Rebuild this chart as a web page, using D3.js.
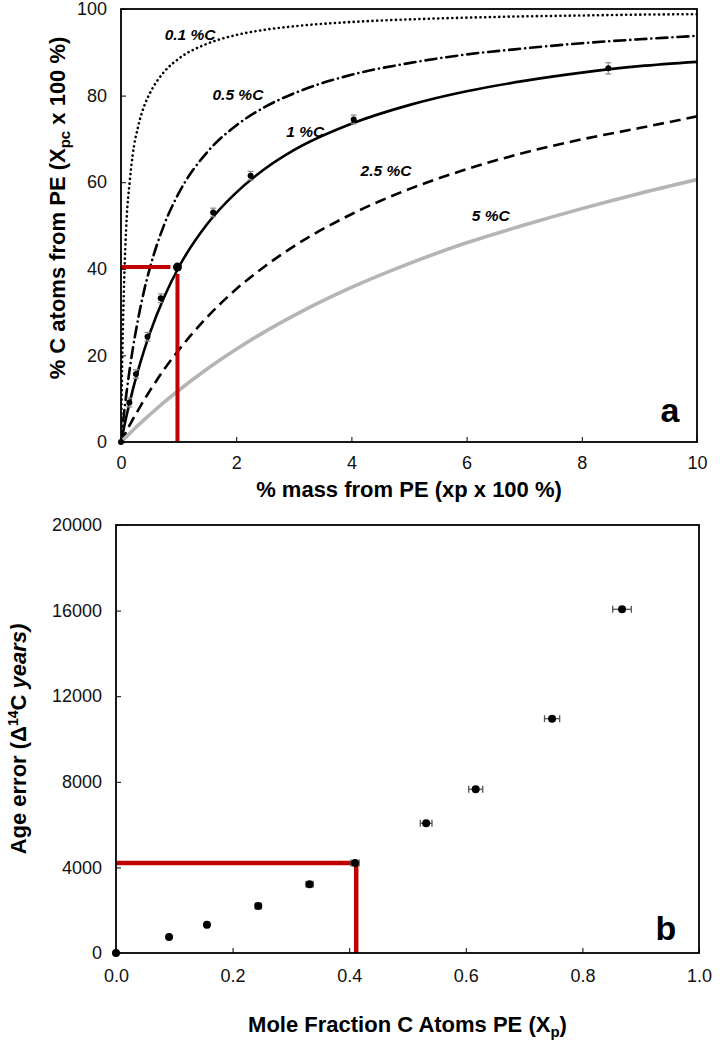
<!DOCTYPE html>
<html>
<head>
<meta charset="utf-8">
<script src="https://cdn.jsdelivr.net/npm/d3@7"></script>
<style>
  body { margin: 0; background: #fff; }
  svg { display: block; font-family: "Liberation Sans", Arial, sans-serif; }
  .tick text { font-size: 18px; fill: #111; }
</style>
</head>
<body>
<svg id="chart" width="722" height="1044"></svg>
<script>
// panel a: % C atoms from PE vs % mass from PE, one curve per sample %C
const massGrid = [0, 0.02, 0.05, 0.1, 0.15, 0.2, 0.3, 0.4, 0.5, 0.75, 1, 1.5, 2, 2.5, 3, 4, 5, 6, 7, 8, 9, 10]
const curve01 = [0, 18, 35, 52, 60, 66, 73, 77.5, 80.5, 85.5, 88.5, 92, 94, 95.2, 96, 97, 97.6, 98, 98.3, 98.5, 98.7, 98.8]
const curve05 = [0, 2.6, 6.3, 11.8, 16.7, 21.1, 28.6, 34.9, 40.1, 50.2, 57.4, 67.0, 73.1, 77.4, 80.5, 84.8, 87.5, 89.5, 90.9, 92.1, 93.0, 93.8]
const curve1 = [0, 1.3, 3.2, 6.3, 9.1, 11.8, 16.7, 21.1, 25.1, 33.5, 40.3, 50.4, 57.6, 63.1, 67.4, 73.5, 77.8, 81.0, 83.4, 85.3, 86.8, 87.8]
const curve25 = [0, 0.5, 1.3, 2.6, 3.9, 5.1, 7.4, 9.7, 11.8, 16.8, 21.2, 28.9, 35.3, 40.6, 45.2, 52.6, 58.4, 63.0, 66.8, 69.9, 72.5, 75.2]
const curve5 = [0, 0.3, 0.7, 1.3, 2.0, 2.6, 3.9, 5.1, 6.3, 9.2, 11.9, 16.9, 21.4, 25.5, 29.2, 35.7, 41.2, 46.0, 50.1, 53.9, 57.4, 60.6]
const curveNames = ['0.1 %C', '0.5 %C', '1 %C', '2.5 %C', '5 %C']
const curveLabelX = [1.2, 2.03, 3.2, 4.6, 6.42]
const curveLabelY = [94, 80.3, 71.8, 62.8, 52.4]

const measMass = [0, 0.145, 0.26, 0.46, 0.69, 1.6, 2.25, 4.04, 8.46]
const measAtoms = [0, 9.1, 15.7, 24.3, 33.2, 53.0, 61.5, 74.5, 86.3]
const measErr = [0, 1, 1, 1, 1, 1, 1, 1, 1.3]
const markMass = 0.98
const markAtoms = 40.4

const topXTicks = [0, 2, 4, 6, 8, 10]
const topYTicks = [0, 20, 40, 60, 80, 100]

// panel b: age error vs mole fraction of C atoms from PE
const moleFrac = [0, 0.091, 0.156, 0.244, 0.332, 0.41, 0.532, 0.617, 0.748, 0.868]
const ageError = [0, 750, 1320, 2200, 3210, 4200, 6060, 7650, 10950, 16060]
const moleErr = [0, 0.002, 0.003, 0.005, 0.006, 0.007, 0.01, 0.012, 0.013, 0.016]
const markFrac = 0.412
const markAge = 4200

const botXTicks = [0, 0.2, 0.4, 0.6, 0.8, 1.0]
const botYTicks = [0, 4000, 8000, 12000, 16000, 20000]

const red = '#c00000'
const svg = d3.select('#chart')

// ---------- panel a ----------
const xA = d3.scaleLinear().domain([0, 10]).range([121, 697])
const yA = d3.scaleLinear().domain([0, 100]).range([442, 9])
const gA = svg.append('g')

gA.append('g')
  .attr('transform', `translate(0,${yA(0)})`)
  .call(d3.axisBottom(xA).tickValues(topXTicks).tickFormat(d3.format('d'))
    .tickSizeInner(-5).tickSizeOuter(0).tickPadding(14))
  .call(g => g.select('.domain').remove())
gA.append('g')
  .attr('transform', `translate(${xA(0)},0)`)
  .call(d3.axisLeft(yA).tickValues(topYTicks).tickFormat(d3.format('d'))
    .tickSizeInner(-5).tickSizeOuter(0).tickPadding(14))
  .call(g => g.select('.domain').remove())

const curveStyles = [
  { data: curve01, color: '#000', width: 2.6, dash: '0.1 4.6', cap: 'round' },
  { data: curve05, color: '#000', width: 2.6, dash: '11 5 0.1 5', cap: 'round' },
  { data: curve1, color: '#000', width: 2.6, dash: null, cap: 'butt' },
  { data: curve25, color: '#000', width: 2.6, dash: '11 6', cap: 'butt' },
  { data: curve5, color: '#b5b5b5', width: 3.6, dash: null, cap: 'butt' }
]
const lineA = d3.line()
  .x((d, i) => xA(massGrid[i]))
  .y(d => yA(d))
  .curve(d3.curveMonotoneX)

const clipA = svg.append('clipPath').attr('id', 'clipA')
clipA.append('rect').attr('x', xA(0)).attr('y', yA(100))
  .attr('width', xA(10) - xA(0)).attr('height', yA(0) - yA(100))

gA.append('g').attr('clip-path', 'url(#clipA)')
  .selectAll('path')
  .data(curveStyles)
  .join('path')
  .attr('d', d => lineA(d.data))
  .attr('fill', 'none')
  .attr('stroke', d => d.color)
  .attr('stroke-width', d => d.width)
  .attr('stroke-dasharray', d => d.dash)
  .attr('stroke-linecap', d => d.cap)

gA.selectAll('text.clabel')
  .data(curveNames)
  .join('text')
  .attr('class', 'clabel')
  .attr('x', (d, i) => xA(curveLabelX[i]))
  .attr('y', (d, i) => yA(curveLabelY[i]))
  .attr('text-anchor', 'middle')
  .attr('dy', '0.35em')
  .attr('font-size', 15.5)
  .attr('font-weight', 'bold')
  .attr('font-style', 'italic')
  .text(d => d)

// red guide lines to the 1 % mark
gA.append('line')
  .attr('x1', xA(0)).attr('x2', xA(markMass) - 7)
  .attr('y1', yA(markAtoms)).attr('y2', yA(markAtoms))
  .attr('stroke', red).attr('stroke-width', 4)
gA.append('line')
  .attr('x1', xA(markMass)).attr('x2', xA(markMass))
  .attr('y1', yA(0)).attr('y2', yA(markAtoms) + 7)
  .attr('stroke', red).attr('stroke-width', 4)

const measA = measMass.map((m, i) => ({ x: m, y: measAtoms[i], e: measErr[i] }))
const errA = gA.append('g').attr('stroke', '#8a8a8a').attr('stroke-width', 1.2)
measA.filter(d => d.e > 0).forEach(d => {
  errA.append('line').attr('x1', xA(d.x)).attr('x2', xA(d.x))
    .attr('y1', yA(d.y - d.e)).attr('y2', yA(d.y + d.e))
  errA.append('line').attr('x1', xA(d.x) - 3).attr('x2', xA(d.x) + 3)
    .attr('y1', yA(d.y + d.e)).attr('y2', yA(d.y + d.e))
  errA.append('line').attr('x1', xA(d.x) - 3).attr('x2', xA(d.x) + 3)
    .attr('y1', yA(d.y - d.e)).attr('y2', yA(d.y - d.e))
})
gA.selectAll('circle.meas')
  .data(measA)
  .join('circle')
  .attr('class', 'meas')
  .attr('cx', d => xA(d.x))
  .attr('cy', d => yA(d.y))
  .attr('r', 3)
  .attr('fill', '#000')
gA.append('circle')
  .attr('cx', xA(markMass)).attr('cy', yA(markAtoms)).attr('r', 4.5).attr('fill', '#000')

gA.append('rect')
  .attr('x', xA(0)).attr('y', yA(100))
  .attr('width', xA(10) - xA(0)).attr('height', yA(0) - yA(100))
  .attr('fill', 'none').attr('stroke', '#000').attr('stroke-width', 1.8)

gA.append('text')
  .attr('x', (xA(0) + xA(10)) / 2).attr('y', 497)
  .attr('text-anchor', 'middle').attr('font-size', 22).attr('font-weight', 'bold')
  .text('% mass from PE (xp x 100 %)')

const yTitleA = gA.append('text')
  .attr('transform', 'translate(65,208) rotate(-90)')
  .attr('text-anchor', 'middle').attr('font-size', 22).attr('font-weight', 'bold')
yTitleA.append('tspan').text('% C atoms from PE (X')
yTitleA.append('tspan').attr('font-size', 15).attr('dy', 5).text('pc')
yTitleA.append('tspan').attr('dy', -5).text(' x 100 %)')

gA.append('text')
  .attr('x', 670).attr('y', 422)
  .attr('text-anchor', 'middle').attr('font-size', 34).attr('font-weight', 'bold')
  .text('a')

// ---------- panel b ----------
const xB = d3.scaleLinear().domain([0, 1]).range([116, 699])
const yB = d3.scaleLinear().domain([0, 20000]).range([953, 525])
const gB = svg.append('g')

gB.append('g')
  .attr('transform', `translate(0,${yB(0)})`)
  .call(d3.axisBottom(xB).tickValues(botXTicks).tickFormat(d3.format('.1f'))
    .tickSizeInner(-5).tickSizeOuter(0).tickPadding(16))
  .call(g => g.select('.domain').remove())
gB.append('g')
  .attr('transform', `translate(${xB(0)},0)`)
  .call(d3.axisLeft(yB).tickValues(botYTicks).tickFormat(d3.format('d'))
    .tickSizeInner(-5).tickSizeOuter(0).tickPadding(14))
  .call(g => g.select('.domain').remove())

gB.append('line')
  .attr('x1', xB(0)).attr('x2', xB(markFrac))
  .attr('y1', yB(markAge)).attr('y2', yB(markAge))
  .attr('stroke', red).attr('stroke-width', 4.5)
gB.append('line')
  .attr('x1', xB(markFrac)).attr('x2', xB(markFrac))
  .attr('y1', yB(0)).attr('y2', yB(markAge))
  .attr('stroke', red).attr('stroke-width', 4.5)

const measB = moleFrac.map((m, i) => ({ x: m, y: ageError[i], e: moleErr[i] }))
const errB = gB.append('g').attr('stroke', '#555').attr('stroke-width', 1.3)
measB.filter(d => d.e > 0).forEach(d => {
  errB.append('line').attr('x1', xB(d.x - d.e)).attr('x2', xB(d.x + d.e))
    .attr('y1', yB(d.y)).attr('y2', yB(d.y))
  ;[d.x - d.e, d.x + d.e].forEach(v => {
    errB.append('line').attr('x1', xB(v)).attr('x2', xB(v))
      .attr('y1', yB(d.y) - 3.5).attr('y2', yB(d.y) + 3.5)
  })
})
gB.selectAll('circle.meas')
  .data(measB)
  .join('circle')
  .attr('class', 'meas')
  .attr('cx', d => xB(d.x))
  .attr('cy', d => yB(d.y))
  .attr('r', 4)
  .attr('fill', '#000')

gB.append('rect')
  .attr('x', xB(0)).attr('y', yB(20000))
  .attr('width', xB(1) - xB(0)).attr('height', yB(0) - yB(20000))
  .attr('fill', 'none').attr('stroke', '#000').attr('stroke-width', 1.8)

const xTitleB = gB.append('text')
  .attr('x', (xB(0) + xB(1)) / 2).attr('y', 1032)
  .attr('text-anchor', 'middle').attr('font-size', 22).attr('font-weight', 'bold')
xTitleB.append('tspan').text('Mole Fraction C Atoms PE (X')
xTitleB.append('tspan').attr('font-size', 15).attr('dy', 5).text('p')
xTitleB.append('tspan').attr('dy', -5).text(')')

const yTitleB = gB.append('text')
  .attr('transform', `translate(26,${(yB(0) + yB(20000)) / 2}) rotate(-90)`)
  .attr('text-anchor', 'middle').attr('font-size', 22).attr('font-weight', 'bold')
yTitleB.append('tspan').text('Age error (\u0394')
yTitleB.append('tspan').attr('font-size', 14).attr('dy', -8).text('14')
yTitleB.append('tspan').attr('dy', 8).text('C ')
yTitleB.append('tspan').attr('font-style', 'italic').text('years)')

gB.append('text')
  .attr('x', 666).attr('y', 940)
  .attr('text-anchor', 'middle').attr('font-size', 34).attr('font-weight', 'bold')
  .text('b')
</script>
</body>
</html>
